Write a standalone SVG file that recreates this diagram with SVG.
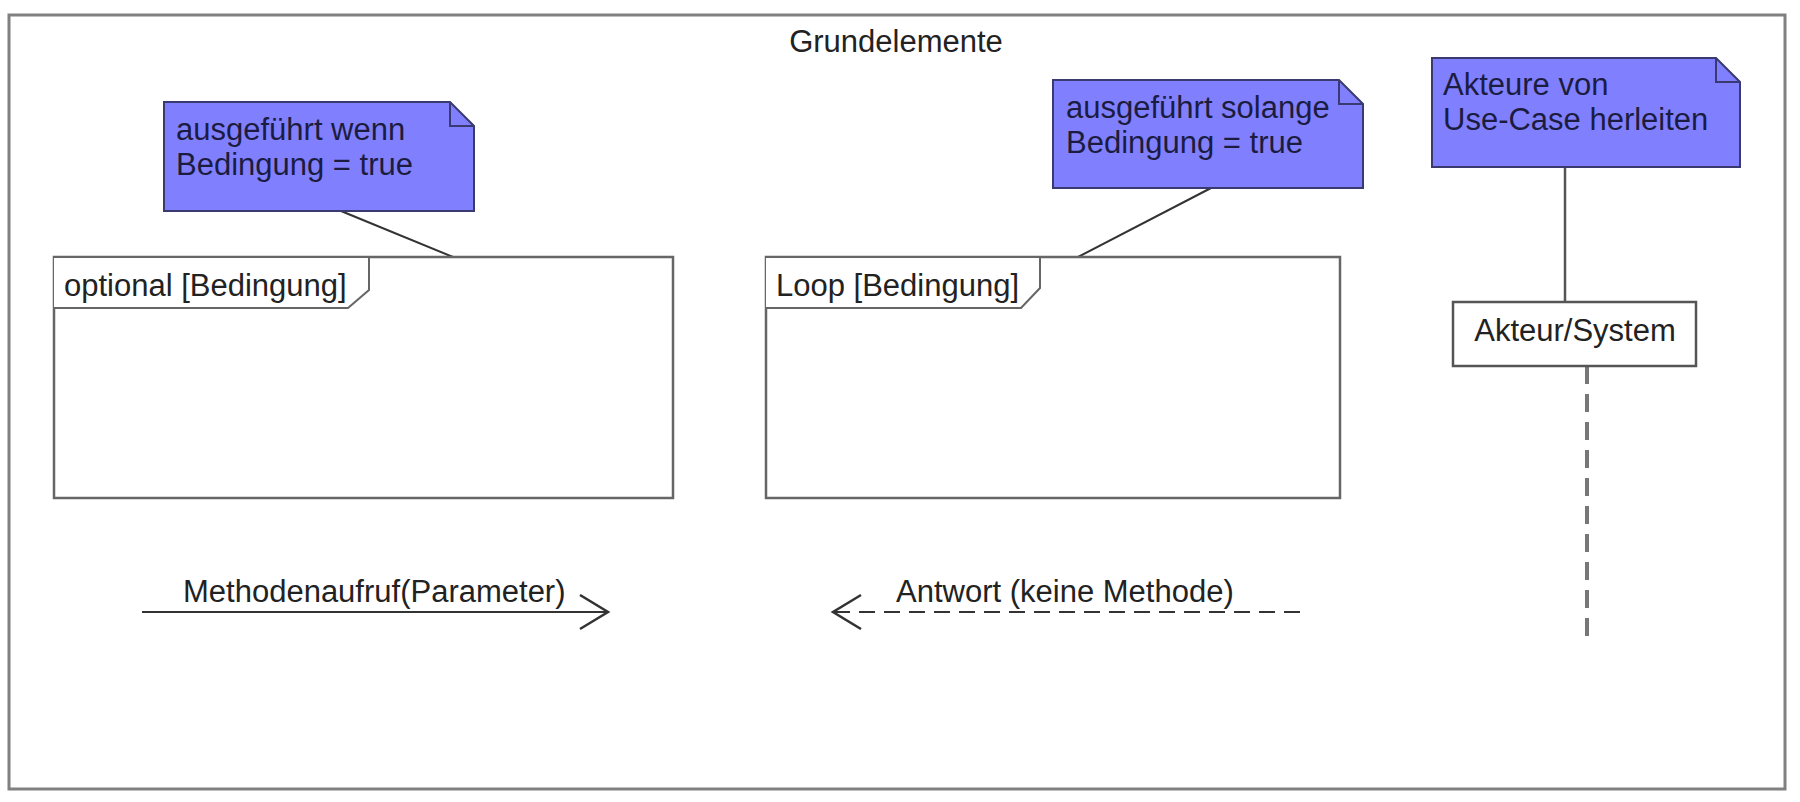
<svg xmlns="http://www.w3.org/2000/svg" width="1800" height="802" viewBox="0 0 1800 802">
<style>
text{font-family:"Liberation Sans",Arial,sans-serif;font-size:31px;fill:#222}
.note path.body{fill:#8080ff;stroke:#3a3a70;stroke-width:2}
.note path.fold{fill:none;stroke:#3a3a70;stroke-width:2}
.note text{fill:#1c1c40}
.frag{fill:#fff;stroke:#666;stroke-width:2.5}
.tab{fill:#fff;stroke:#666;stroke-width:2}
.link{stroke:#333;stroke-width:2;fill:none}
</style>
<defs>
<marker id="open" markerWidth="32" markerHeight="40" refX="29" refY="18" orient="auto" markerUnits="userSpaceOnUse">
<path d="M1,1 L29,18 L1,35" fill="none" stroke="#333" stroke-width="2.5"/>
</marker>
</defs>
<rect width="1800" height="802" fill="#fff"/>
<g id="frame">
<rect x="9" y="15" width="1776" height="774" fill="none" stroke="#808080" stroke-width="3"/>
<text x="896" y="52" text-anchor="middle" fill="#333">Grundelemente</text>
</g>
<g id="connectors">
<line class="link" x1="341" y1="211" x2="453" y2="257"/>
<line class="link" x1="1211" y1="188" x2="1078" y2="257"/>
<line x1="1565" y1="167" x2="1565" y2="302" stroke="#555" stroke-width="2.5"/>
<line x1="1587" y1="366" x2="1587" y2="636" stroke="#777" stroke-width="4" stroke-dasharray="18 10"/>
<line class="link" x1="142" y1="612" x2="608" y2="612" marker-end="url(#open)"/>
<line class="link" x1="1300" y1="612" x2="833" y2="612" stroke-dasharray="16 9" marker-end="url(#open)"/>
<text x="183" y="602">Methodenaufruf(Parameter)</text>
<text x="896" y="602">Antwort (keine Methode)</text>
</g>
<g id="note1" class="note">
<path class="body" d="M164,102 H450 L474,126 V211 H164 Z"/>
<path class="fold" d="M450,102 V126 H474"/>
<text x="176" y="140">ausgeführt wenn</text>
<text x="176" y="175">Bedingung = true</text>
</g>
<g id="note2" class="note">
<path class="body" d="M1053,80 H1339 L1363,104 V188 H1053 Z"/>
<path class="fold" d="M1339,80 V104 H1363"/>
<text x="1066" y="118">ausgeführt solange</text>
<text x="1066" y="153">Bedingung = true</text>
</g>
<g id="note3" class="note">
<path class="body" d="M1432,58 H1716 L1740,82 V167 H1432 Z"/>
<path class="fold" d="M1716,58 V82 H1740"/>
<text x="1443" y="95">Akteure von</text>
<text x="1443" y="130">Use-Case herleiten</text>
</g>
<g id="optional">
<rect class="frag" x="54" y="257" width="619" height="241"/>
<path class="tab" d="M54,257 H369 V290 L348,308 H54"/>
<text x="64" y="296">optional [Bedingung]</text>
</g>
<g id="loop">
<rect class="frag" x="766" y="257" width="574" height="241"/>
<path class="tab" d="M766,257 H1040 V288 L1021,308 H766"/>
<text x="776" y="296">Loop [Bedingung]</text>
</g>
<g id="akteur">
<rect x="1453" y="302" width="243" height="64" fill="#fff" stroke="#555" stroke-width="2.5"/>
<text x="1575" y="341" text-anchor="middle">Akteur/System</text>
</g>
</svg>
